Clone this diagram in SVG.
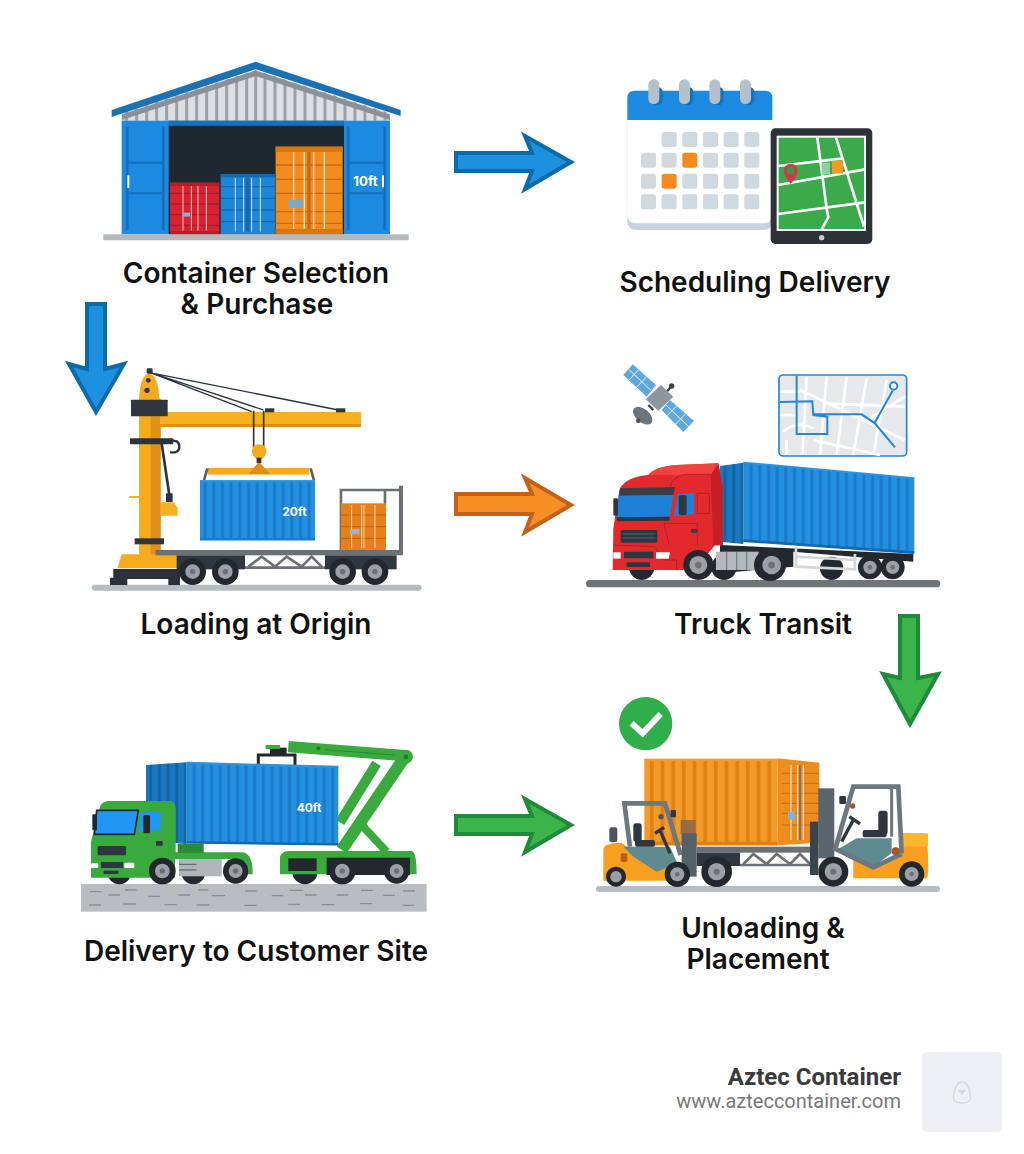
<svg xmlns="http://www.w3.org/2000/svg" width="1024" height="1154" viewBox="0 0 1024 1154">
<style>
.lb{font-family:"Inter","Liberation Sans",sans-serif;font-weight:600;font-size:28px;fill:#111;text-anchor:middle}
.ct{font-family:"Inter","Liberation Sans",sans-serif;font-weight:700;fill:#fff}
.whl{fill:#23282e}.rim{fill:#9aa0a6}.hub{fill:#6a7075}
.d{stroke:#888d92;stroke-width:4}
.g{fill:none;stroke:#6a7075;stroke-width:8}
.bl{fill:#d0d8e0}
.wr{stroke:#fff;stroke-width:8;fill:none}
</style>
<defs>
<pattern id="sb" width="26" height="10" patternUnits="userSpaceOnUse"><rect width="26" height="10" fill="#2390e0"/><rect x="15" width="9" height="10" fill="#197ac8"/></pattern>
<pattern id="sd" width="26" height="10" patternUnits="userSpaceOnUse"><rect width="26" height="10" fill="#1878c2"/><rect x="15" width="9" height="10" fill="#12639f"/></pattern>
<pattern id="so" width="32" height="10" patternUnits="userSpaceOnUse"><rect width="32" height="10" fill="#f49a2a"/><rect x="20" width="11" height="10" fill="#e07f12"/></pattern>
<clipPath id="gab"><polygon points="95,212 95,190 497,60 900,190 900,212"/></clipPath>
</defs>
<rect width="1024" height="1154" fill="#fff"/>

<g id="connectors" stroke-width="4" stroke-linejoin="miter">
<path d="M456,153H532L525,136L571,162L525,189L532,171H456Z" fill="#1e90e0" stroke="#0d6aa8"/>
<path d="M456,494H532L525,478L571,505L525,532L532,514H456Z" fill="#f78f24" stroke="#c4601a"/>
<path d="M456,816H532L525,799L571,825L525,852L532,834H456Z" fill="#3bb54a" stroke="#1e8a3a"/>
<path d="M87,304V369L69,364L96,412L124,364L105,369V304Z" fill="#1e90e0" stroke="#0d6aa8"/>
<path d="M900,616V678L883,674L910,724L938,674L918,678V616Z" fill="#3bb54a" stroke="#1e8a3a"/>
</g>

<g id="node-selection">
<g transform="translate(90,50) scale(.3333)">
<polygon points="95,212 95,190 497,60 900,190 900,212" fill="#dcdfe2"/>
<g clip-path="url(#gab)" stroke="#9aa0a6" stroke-width="9">
<path d="M110,0V220M140,0V220M170,0V220M200,0V220M230,0V220M260,0V220M290,0V220M320,0V220M350,0V220M380,0V220M410,0V220M440,0V220M470,0V220M497,0V220M525,0V220M555,0V220M585,0V220M615,0V220M645,0V220M675,0V220M705,0V220M735,0V220M765,0V220M795,0V220M825,0V220M855,0V220M885,0V220"/>
<path d="M85,205L497,70L910,205" fill="none" stroke="#8a9097" stroke-width="16"/>
</g>
<polygon points="65,180 497,35 932,180 932,198 497,58 65,201" fill="#1a72b4"/>
<rect x="95" y="212" width="805" height="341" fill="#1c8ae0"/>
<rect x="236" y="226" width="526" height="327" fill="#1f2730"/>
<rect x="236" y="212" width="526" height="15" fill="#1570b5"/>
<path d="M112,230V540M220,230V540M775,230V540M884,230V540" stroke="#1470b8" stroke-width="8"/>
<path d="M112,338H220M112,430H220M775,338H884M775,430H884" stroke="#1470b8" stroke-width="6"/>
<rect x="112" y="376" width="6" height="38" fill="#fff"/><rect x="876" y="376" width="6" height="36" fill="#fff"/>
<text class="ct" x="790" y="409" font-size="40">10ft</text>
<rect x="240" y="398" width="148" height="155" fill="#d8222f"/>
<path d="M240,430H388M240,462H388M240,494H388M240,526H388" stroke="#ad1a26" stroke-width="4"/>
<path d="M279,408V542M304,408V542M324,408V542M349,408V542" stroke="#eac9c9" stroke-width="3"/>
<rect x="240" y="398" width="148" height="10" fill="#b71c28"/><rect x="240" y="543" width="148" height="10" fill="#b71c28"/>
<rect x="278" y="488" width="22" height="12" fill="#7fb2d8"/>
<rect x="392" y="373" width="163" height="180" fill="#1d86d6"/>
<path d="M392,410H555M392,445H555M392,480H555M392,515H555" stroke="#1268ad" stroke-width="4"/>
<rect x="467" y="385" width="12" height="160" fill="#1268ad"/>
<path d="M436,383V545M461,383V545M485,383V545M511,383V545" stroke="#cfe4f5" stroke-width="3"/>
<rect x="392" y="373" width="163" height="9" fill="#1268ad"/>
<rect x="557" y="290" width="201" height="263" fill="#f28c1e"/>
<rect x="557" y="290" width="201" height="16" fill="#d8760f"/>
<path d="M557,345H758M557,388H758M557,430H758M557,485H758M557,520H758" stroke="#c96a10" stroke-width="4"/>
<rect x="652" y="306" width="10" height="232" fill="#c96a10"/>
<path d="M611,306V538M643,306V538M671,306V538M703,306V538" stroke="#f8ddb8" stroke-width="4"/>
<rect x="595" y="450" width="44" height="24" fill="#7fa8c8"/>
<rect x="557" y="537" width="201" height="16" fill="#d8760f"/>
<rect x="40" y="553" width="916" height="18" fill="#b5b9bd"/>
</g>
<text class="lb" x="256" y="283">Container Selection</text>
<text class="lb" x="257" y="314">&amp; Purchase</text>
</g>

<g id="node-scheduling">
<g transform="translate(610,70) scale(.3333)">
<rect x="52" y="62" width="435" height="418" rx="24" fill="#c8d2de"/>
<rect x="52" y="62" width="435" height="398" rx="24" fill="#fff"/>
<path d="M52,150V84Q52,62 74,62H465Q487,62 487,84V150Z" fill="#1c8ae0"/>
<g fill="#1473bd"><rect x="125" y="50" width="33" height="56" rx="16"/><rect x="217" y="50" width="33" height="56" rx="16"/><rect x="308" y="50" width="33" height="56" rx="16"/><rect x="400" y="50" width="33" height="56" rx="16"/></g>
<g fill="#b6c0ca"><rect x="115" y="28" width="33" height="74" rx="16"/><rect x="207" y="28" width="33" height="74" rx="16"/><rect x="298" y="28" width="33" height="74" rx="16"/><rect x="390" y="28" width="33" height="74" rx="16"/></g>
<g class="bl">
<rect x="155" y="186" width="45" height="45" rx="8"/><rect x="217" y="186" width="45" height="45" rx="8"/><rect x="279" y="186" width="45" height="45" rx="8"/><rect x="341" y="186" width="45" height="45" rx="8"/><rect x="403" y="186" width="45" height="45" rx="8"/>
<rect x="93" y="248" width="45" height="45" rx="8"/><rect x="155" y="248" width="45" height="45" rx="8"/><rect x="217" y="248" width="45" height="45" rx="8" fill="#f58a1f"/><rect x="279" y="248" width="45" height="45" rx="8"/><rect x="341" y="248" width="45" height="45" rx="8"/><rect x="403" y="248" width="45" height="45" rx="8"/>
<rect x="93" y="311" width="45" height="45" rx="8"/><rect x="155" y="311" width="45" height="45" rx="8" fill="#f58a1f"/><rect x="217" y="311" width="45" height="45" rx="8"/><rect x="279" y="311" width="45" height="45" rx="8"/><rect x="341" y="311" width="45" height="45" rx="8"/><rect x="403" y="311" width="45" height="45" rx="8"/>
<rect x="93" y="373" width="45" height="45" rx="8"/><rect x="155" y="373" width="45" height="45" rx="8"/><rect x="217" y="373" width="45" height="45" rx="8"/><rect x="279" y="373" width="45" height="45" rx="8"/><rect x="341" y="373" width="45" height="45" rx="8"/><rect x="403" y="373" width="45" height="45" rx="8"/>
</g>
<rect x="482" y="175" width="305" height="347" rx="14" fill="#2c3238"/>
<rect x="503" y="200" width="262" height="280" fill="#3aaa4a" stroke="#fff" stroke-width="6"/>
<path d="M505,288L700,265M505,345L765,298M505,432L765,397M622,203L650,415L655,442L635,478M678,203L762,470" class="wr"/>
<rect x="635" y="278" width="25" height="36" fill="#8fd0a0"/><rect x="666" y="272" width="33" height="38" fill="#f59a23"/>
<path d="M542,342Q520,315 521,302A21,21 0 1 1 563,302Q564,315 542,342Z" fill="#d9344a"/><circle cx="542" cy="301" r="11" fill="#2f9e4f"/>
<circle cx="635" cy="503" r="8" fill="#c8ccd0"/>
</g>
<text class="lb" x="755" y="292">Scheduling Delivery</text>
</g>

<g id="node-loading">
<g transform="translate(60,295) scale(.3333)">
<rect x="95" y="869" width="990" height="18" rx="9" fill="#b5bcc2"/>
<rect x="237" y="310" width="65" height="470" fill="#f5ab1c"/><rect x="272" y="364" width="30" height="416" fill="#e0901a"/>
<path d="M237,315Q240,240 268,235Q295,240 298,315Z" fill="#f5ab1c"/>
<circle cx="265" cy="256" r="7" fill="#2f3640"/><circle cx="261" cy="286" r="8" fill="#2f3640"/><rect x="260" y="220" width="18" height="16" rx="4" fill="#2f3640"/>
<rect x="300" y="351" width="603" height="45" fill="#f7b020"/><rect x="300" y="387" width="603" height="9" fill="#df8f12"/>
<rect x="213" y="314" width="110" height="50" rx="2" fill="#2f3640"/>
<path d="M269,232L575,350M269,232L610,345M280,235L835,345" stroke="#2b3340" stroke-width="4" fill="none"/>
<rect x="615" y="340" width="28" height="12" fill="#2f3640"/><rect x="828" y="340" width="28" height="12" fill="#2f3640"/>
<path d="M581,347V455M611,347V455" stroke="#2b3340" stroke-width="5"/>
<path d="M575,470Q578,448 597,448Q618,448 620,470Q615,490 597,497Q580,490 575,470Z" fill="#f5ab1c"/>
<rect x="443" y="519" width="305" height="20" fill="#f5ab1c"/>
<path d="M565,537L597,500L630,537Z" fill="#df8f12"/><rect x="590" y="488" width="14" height="16" fill="#2f3640"/>
<path d="M432,556L442,520M762,556L752,520" stroke="#5a6268" stroke-width="8"/>
<rect x="420" y="556" width="345" height="180" fill="url(#sb)"/>
<rect x="420" y="556" width="345" height="6" fill="#2a93e0"/><rect x="420" y="729" width="345" height="7" fill="#1c7cc8"/>
<text class="ct" x="667" y="664" font-size="36">20ft</text>
<rect x="210" y="430" width="130" height="18" rx="3" fill="#2b3340"/>
<path d="M325,438Q358,432 358,455Q358,475 330,472" fill="none" stroke="#2b3340" stroke-width="7"/>
<path d="M305,445L328,600" stroke="#2b3340" stroke-width="8"/><rect x="318" y="595" width="20" height="26" fill="#2b3340"/>
<path d="M302,622H342L353,640V662H302Z" fill="#f7b020"/><rect x="208" y="603" width="30" height="6" fill="#f7b020"/>
<rect x="224" y="730" width="88" height="18" fill="#2f3640"/>
<path d="M172,820L185,778H352V820Z" fill="#f5ab1c"/>
<path d="M160,822H360V870H325V852H202V870H150V848H160Z" fill="#2b3138"/>
<path d="M843,765V585H1025M975,585V630" class="g" stroke-width="10"/><rect x="1017" y="572" width="12" height="200" fill="#6a7075"/>
<rect x="843" y="625" width="135" height="140" fill="#e8801a"/>
<path d="M843,660H978M843,695H978M843,730H978" stroke="#b85f10" stroke-width="3"/>
<path d="M875,630V760M905,630V760M912,630V760M945,630V760" stroke="#f6d4a8" stroke-width="3"/>
<rect x="870" y="702" width="28" height="16" fill="#9fb4c4"/>
<rect x="287" y="765" width="742" height="16" fill="#6a7075"/>
<rect x="350" y="781" width="205" height="42" fill="#2f3640"/><rect x="795" y="781" width="215" height="42" fill="#2f3640"/>
<path d="M555,818H795M565,815L605,785L645,815L680,785L725,815L755,785L785,815" class="g"/>
<circle cx="398" cy="830" r="40" class="whl"/><circle cx="398" cy="830" r="22" class="rim"/><circle cx="398" cy="830" r="8" class="hub"/>
<circle cx="496" cy="830" r="40" class="whl"/><circle cx="496" cy="830" r="22" class="rim"/><circle cx="496" cy="830" r="8" class="hub"/>
<circle cx="848" cy="830" r="40" class="whl"/><circle cx="848" cy="830" r="22" class="rim"/><circle cx="848" cy="830" r="8" class="hub"/>
<circle cx="945" cy="830" r="40" class="whl"/><circle cx="945" cy="830" r="22" class="rim"/><circle cx="945" cy="830" r="8" class="hub"/>
</g>
<text class="lb" x="256" y="634">Loading at Origin</text>
</g>

<g id="node-transit">
<g transform="translate(580,360) scale(.3333)">
<polygon points="158,13 228,75 200,110 130,45" fill="#5ea8dc"/>
<path d="M147,29L214,92M176,29L145,62M200,50L168,84" stroke="#e8f2fa" stroke-width="3"/>
<polygon points="270,120 342,183 310,216 245,150" fill="#5ea8dc"/>
<path d="M258,135L326,200M290,138L258,170M318,160L284,195" stroke="#e8f2fa" stroke-width="3"/>
<ellipse cx="188" cy="167" rx="34" ry="20" transform="rotate(40 188 167)" fill="#6b747c"/><circle cx="175" cy="182" r="7" fill="#4a525a"/>
<path d="M205,135L220,150M260,95L275,78" stroke="#3a4148" stroke-width="7"/>
<polygon points="243,75 280,110 235,152 197,118" fill="#8d96a0"/>
<circle cx="275" cy="78" r="8" fill="#3a4148"/>
<rect x="597" y="45" width="383" height="243" rx="12" fill="#e6e8ec" stroke="#1f88dc" stroke-width="5"/>
<path d="M600,95H660M600,165H650M610,215Q650,180 700,205M620,240V285M680,50L668,285M740,50L720,285M800,50L770,285M860,55L820,285M920,60L880,285M660,90L975,240M730,130L975,140M700,240L900,285M860,180L975,110" class="wr" stroke-width="7"/>
<path d="M600,126L697,124L700,165L742,170V222H650V47M700,163H845L885,190L945,262M885,187L938,92" fill="none" stroke="#1f88dc" stroke-width="6"/>
<circle cx="941" cy="78" r="11" fill="#fff" stroke="#1f88dc" stroke-width="6"/>
<rect x="18" y="660" width="1063" height="22" rx="11" fill="#6f7478"/>
<circle cx="185" cy="622" r="38" class="whl"/><circle cx="432" cy="622" r="38" class="whl"/><circle cx="755" cy="625" r="35" class="whl"/>
<path d="M420,555L1000,582L1000,605L640,575L640,620L420,640Z" fill="#23282e"/>
<polygon points="420,318 490,308 490,552 420,545" fill="url(#sd)"/>
<polygon points="490,308 1003,355 1003,578 490,542" fill="url(#sb)"/>
<path d="M490,308L1003,355" stroke="#2a93e0" stroke-width="6"/><path d="M490,542L1003,578" stroke="#1568ac" stroke-width="8"/>
<path d="M648,562V620L825,628V582M648,590L825,600" fill="none" stroke="#d5d8db" stroke-width="8"/>
<path d="M98,630L100,505L110,440L120,385Q140,350 205,345Q225,320 290,315L415,310L428,380V556H405L385,580L310,630Z" fill="#e22a2e"/>
<path d="M392,345L415,310L428,380V556H400Z" fill="#c41f25"/>
<path d="M205,345Q225,320 290,315L415,310L392,345Z" fill="#f0433f"/>
<path d="M270,380Q280,345 320,343H392M352,400H388V460H352ZM268,555L252,490L352,490V560" fill="none" stroke="#b81c22" stroke-width="3"/>
<path d="M102,555L225,560L250,600L290,600V630" fill="none" stroke="#b81c22" stroke-width="3"/>
<polygon points="120,385 285,381 280,405 116,407" fill="#3a3f45"/>
<polygon points="116,407 280,405 270,470 110,472" fill="#1f80d8"/>
<polygon points="110,472 270,470 268,482 110,484" fill="#2f3640"/>
<polygon points="293,400 342,400 342,462 283,468" fill="#1f80d8"/>
<rect x="296" y="405" width="24" height="60" rx="6" fill="#2f3640"/>
<rect x="100" y="415" width="14" height="52" rx="4" fill="#2f3640"/>
<rect x="122" y="510" width="110" height="38" rx="4" fill="#2f3640"/>
<path d="M128,522H226M128,534H226" stroke="#5a6068" stroke-width="3"/>
<rect x="132" y="575" width="88" height="20" fill="#2f3640"/><rect x="140" y="607" width="70" height="14" fill="#2f3640"/>
<path d="M228,577H270L266,596H228Z" fill="#fff"/><path d="M100,577H122V596H100Z" fill="#fff"/>
<rect x="333" y="507" width="18" height="12" rx="2" fill="#3a3f45"/>
<rect x="408" y="575" width="128" height="55" fill="#b3b9be"/>
<path d="M440,575V630M470,575V630M500,575V630" stroke="#7a8087" stroke-width="4"/>
<circle cx="355" cy="615" r="45" class="whl"/><circle cx="355" cy="615" r="27" class="rim"/><circle cx="355" cy="615" r="10" class="hub"/>
<circle cx="570" cy="615" r="48" class="whl"/><circle cx="575" cy="615" r="28" class="rim"/><circle cx="575" cy="615" r="10" class="hub"/>
<circle cx="870" cy="622" r="36" class="whl"/><circle cx="870" cy="622" r="20" class="rim"/><circle cx="870" cy="622" r="7" class="hub"/>
<circle cx="938" cy="622" r="36" class="whl"/><circle cx="938" cy="622" r="20" class="rim"/><circle cx="938" cy="622" r="7" class="hub"/>
</g>
<text class="lb" x="763" y="634">Truck Transit</text>
</g>

<g id="node-delivery">
<g transform="translate(75,735) scale(.3333)">
<rect x="18" y="447" width="1037" height="83" fill="#b9bdc2"/>
<path d="M45,470H80M100,480H135M150,465H185M220,484H255M310,480H345M370,465H400M410,482H450M510,468H545M590,482H625M645,466H685M690,480H725M785,480H820M858,466H893M925,481H960M985,468H1020M42,510H78M145,507H182M268,509H305M365,510H403M508,511H545M640,508H675M740,509H778M855,506H892M982,511H1018" class="d"/>
<path d="M795,262L905,85" stroke="#3aaa3e" stroke-width="30"/>
<path d="M800,345L990,65" stroke="#3aaa3e" stroke-width="36"/>
<path d="M855,265L935,350" stroke="#3aaa3e" stroke-width="24"/>
<path d="M640,35L990,62" stroke="#3aaa3e" stroke-width="34"/><path d="M750,44L960,60" stroke="#2b8a35" stroke-width="3"/>
<circle cx="993" cy="65" r="21" fill="#3aaa3e"/><circle cx="993" cy="65" r="7" fill="#1f7a2a"/><circle cx="730" cy="40" r="6" fill="#1f7a2a"/>
<path d="M550,90V60H660V90" fill="none" stroke="#23282e" stroke-width="9"/>
<rect x="585" y="38" width="50" height="22" fill="#23282e"/>
<path d="M572,30H615V42H572Z" fill="#3aaa3e"/>
<polygon points="213,90 335,82 335,328 213,312" fill="url(#sd)"/>
<polygon points="335,82 790,95 790,330 335,325" fill="url(#sb)"/>
<path d="M335,84L790,96" stroke="#2a93e0" stroke-width="7"/><path d="M335,322L790,328" stroke="#1568ac" stroke-width="7"/>
<text class="ct" x="665" y="232" font-size="36">40ft</text>
<circle cx="133" cy="412" r="36" class="whl"/><circle cx="355" cy="412" r="36" class="whl"/><circle cx="690" cy="410" r="38" class="whl"/>
<path d="M48,428V320L75,215Q80,200 100,198H285Q300,200 302,220V352H505Q535,360 533,418H510Q505,372 460,372H300V428Z" fill="#3aaa3e"/>
<rect x="308" y="326" width="78" height="28" fill="#2b8a35"/>
<polygon points="65,228 190,226 178,295 58,295" fill="#2196f3"/>
<path d="M65,226H190L178,298H58Z" fill="none" stroke="#23282e" stroke-width="5"/>
<polygon points="195,232 258,232 258,285 190,292" fill="#2196f3"/>
<rect x="205" y="240" width="20" height="55" rx="5" fill="#23282e"/>
<rect x="52" y="238" width="14" height="48" rx="3" fill="#23282e"/>
<rect x="68" y="333" width="85" height="28" rx="3" fill="#2f3640"/><rect x="78" y="381" width="66" height="18" fill="#2f3640"/>
<rect x="86" y="407" width="44" height="10" fill="#2f3640"/>
<rect x="148" y="383" width="30" height="16" rx="4" fill="#fff"/><rect x="48" y="385" width="22" height="14" rx="4" fill="#fff"/>
<rect x="243" y="318" width="20" height="14" rx="2" fill="#2f3640"/>
<rect x="312" y="372" width="128" height="52" fill="#b0b5b9"/><path d="M312,388H364M312,405H364" stroke="#555" stroke-width="3"/>
<path d="M615,418V365Q620,350 640,348H1010Q1025,350 1025,418Z" fill="#3aaa3e"/>
<rect x="640" y="370" width="85" height="38" fill="#23282e"/><rect x="755" y="368" width="250" height="52" fill="#23282e"/>
<circle cx="262" cy="408" r="40" class="whl"/><circle cx="262" cy="408" r="22" class="rim"/><circle cx="262" cy="408" r="8" class="hub"/>
<circle cx="482" cy="408" r="38" class="whl"/><circle cx="482" cy="408" r="21" class="rim"/><circle cx="482" cy="408" r="8" class="hub"/>
<circle cx="802" cy="408" r="40" class="whl"/><circle cx="802" cy="408" r="22" class="rim"/><circle cx="802" cy="408" r="8" class="hub"/>
<circle cx="965" cy="408" r="38" class="whl"/><circle cx="965" cy="408" r="21" class="rim"/><circle cx="965" cy="408" r="8" class="hub"/>
</g>
<text class="lb" x="256" y="961">Delivery to Customer Site</text>
</g>

<g id="node-unloading">
<g transform="translate(590,690) scale(.3333)">
<circle cx="167" cy="101" r="80" fill="#2fae4a"/>
<path d="M125,100L158,130L212,72" fill="none" stroke="#fff" stroke-width="18"/>
<rect x="18" y="588" width="1032" height="18" rx="9" fill="#b5bcc2"/>
<rect x="163" y="208" width="400" height="258" fill="url(#so)"/>
<rect x="163" y="206" width="400" height="8" fill="#f49a2a"/><rect x="163" y="455" width="400" height="11" fill="#e0810f"/>
<polygon points="563,205 688,218 688,458 563,466" fill="#ee8c1c"/>
<path d="M575,250H685M575,280H685M575,310H685M575,340H685M575,370H685M575,405H685" stroke="#c96a10" stroke-width="3"/>
<path d="M603,225V450M623,225V450M640,225V450" stroke="#e8d8c0" stroke-width="4"/><path d="M630,225V450" stroke="#7a6a58" stroke-width="5"/>
<rect x="594" y="365" width="22" height="24" fill="#7fb2d8"/>
<rect x="320" y="470" width="360" height="18" fill="#6a7075"/>
<rect x="320" y="488" width="130" height="40" fill="#2f3640"/>
<path d="M450,525H670M460,522L490,492L530,522L560,492L600,522L630,492L660,522" class="g"/>
<circle cx="380" cy="545" r="46" class="whl"/><circle cx="380" cy="545" r="26" class="rim"/><circle cx="380" cy="545" r="9" class="hub"/>
<rect x="58" y="412" width="24" height="45" rx="7" fill="#4a5560"/>
<path d="M40,478Q42,458 95,458L110,470H200L230,510L270,530V572H40Z" fill="#f7a020"/>
<path d="M100,470H240L262,520L200,545L130,500Z" fill="#5f8a8f"/>
<path d="M120,470L103,340H225L272,495" fill="none" stroke="#6c7780" stroke-width="14"/>
<rect x="130" y="400" width="25" height="55" rx="8" fill="#2f3640"/><rect x="135" y="450" width="60" height="20" rx="6" fill="#2f3640"/>
<path d="M195,430L222,412M212,425L240,490" stroke="#2f3640" stroke-width="10"/>
<rect x="242" y="360" width="16" height="22" rx="3" fill="#2f3640"/><circle cx="213" cy="380" r="8" fill="#4a5560"/>
<rect x="92" y="490" width="20" height="26" rx="5" fill="#b85f10"/>
<rect x="272" y="390" width="45" height="42" fill="#9a6a40"/>
<rect x="275" y="430" width="45" height="130" fill="#566068"/>
<circle cx="78" cy="560" r="30" class="whl"/><circle cx="78" cy="560" r="17" class="rim"/>
<circle cx="262" cy="553" r="38" class="whl"/><circle cx="262" cy="553" r="21" class="rim"/><circle cx="262" cy="553" r="7" class="hub"/>
<rect x="685" y="295" width="48" height="210" fill="#5a6570"/><rect x="660" y="395" width="25" height="160" fill="#3a444c"/>
<path d="M790,565V500L850,530L935,490V430H1000Q1015,435 1015,540L1012,565Z" fill="#f7a020"/>
<rect x="938" y="430" width="76" height="40" fill="#fbb52e"/>
<path d="M740,480L800,445H905V490L850,530Z" fill="#5f8a8f"/>
<path d="M735,480L790,290H925L935,490M733,475L850,532L935,492" fill="none" stroke="#6c7780" stroke-width="14"/>
<path d="M905,295V440" stroke="#6c7780" stroke-width="9"/>
<rect x="818" y="420" width="72" height="22" rx="6" fill="#2f3640"/><rect x="865" y="362" width="28" height="72" rx="9" fill="#2f3640"/>
<path d="M778,380L810,402M790,390L755,455" stroke="#2f3640" stroke-width="10"/>
<rect x="748" y="318" width="20" height="24" rx="4" fill="#2f3640"/><circle cx="788" cy="348" r="8" fill="#a5552a"/>
<circle cx="917" cy="484" r="12" fill="#a5552a"/>
<circle cx="730" cy="545" r="45" class="whl"/><circle cx="730" cy="545" r="26" class="rim"/><circle cx="730" cy="545" r="9" class="hub"/>
<circle cx="965" cy="552" r="38" class="whl"/><circle cx="965" cy="552" r="21" class="rim"/><circle cx="965" cy="552" r="7" class="hub"/>
</g>
<text class="lb" x="763" y="938">Unloading &amp;</text>
<text class="lb" x="758" y="969">Placement</text>
</g>

<g id="brand">
<text x="901" y="1085" text-anchor="end" font-family="Roboto,'Liberation Sans',sans-serif" font-weight="700" font-size="24" fill="#3a3a3a">Aztec Container</text>
<text x="901" y="1108" text-anchor="end" font-family="Roboto,'Liberation Sans',sans-serif" font-size="20" fill="#777">www.azteccontainer.com</text>
<rect x="922" y="1052" width="80" height="80" rx="5" fill="#eeeff3"/>
<path d="M962,1082C970,1082 971,1098 970,1100C968,1104 956,1104 954,1100C953,1098 954,1082 962,1082Z" fill="none" stroke="#d8d9de" stroke-width="1.5"/>
<path d="M958,1090H966L962,1095Z" fill="#d8d9de"/>
</g>
</svg>
